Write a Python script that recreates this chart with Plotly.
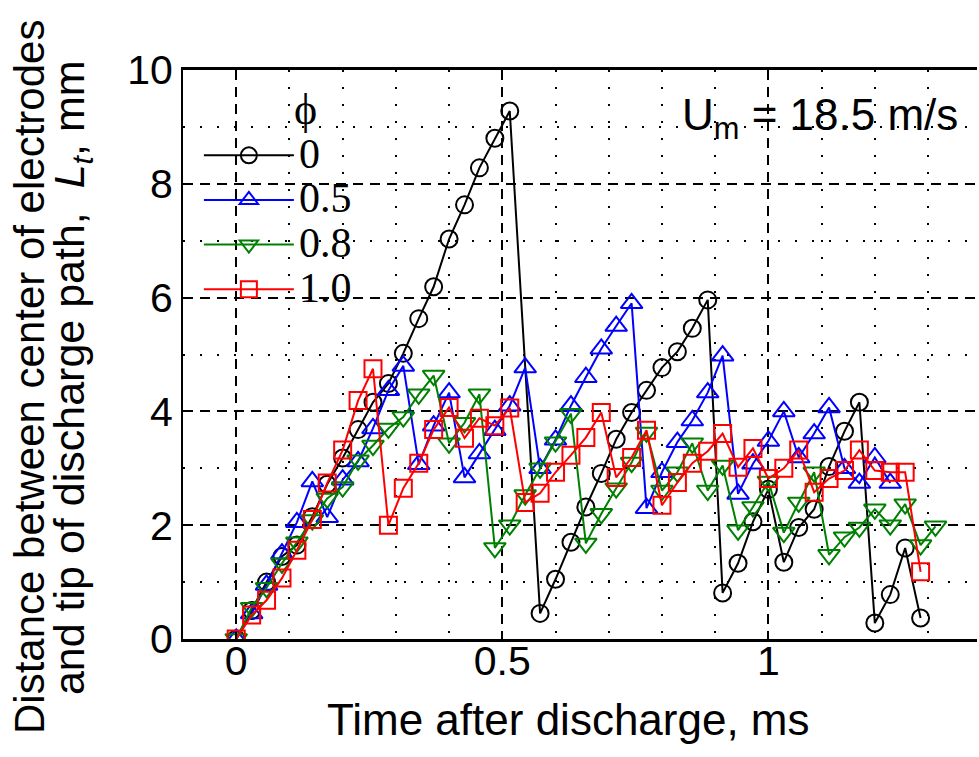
import plotly.graph_objects as go

# time after discharge (ms) and tip distance L_t (mm) for each phi
t_phi0 = [0, 0.029, 0.057, 0.086, 0.114, 0.143, 0.171, 0.2, 0.229, 0.257, 0.286, 0.314,
          0.343, 0.371, 0.4, 0.429, 0.457, 0.486, 0.514, 0.571, 0.6, 0.629, 0.657, 0.686,
          0.714, 0.743, 0.771, 0.8, 0.829, 0.857, 0.886, 0.914, 0.943, 0.971, 1.0, 1.029,
          1.057, 1.086, 1.114, 1.143, 1.171, 1.2, 1.229, 1.257, 1.286]
L_phi0 = [0, 0.5, 1.0, 1.45, 1.65, 2.15, 2.72, 3.18, 3.68, 4.16, 4.49, 5.02,
          5.63, 6.19, 7.03, 7.63, 8.28, 8.8, 9.28, 0.45, 1.05, 1.7, 2.32, 2.91,
          3.51, 3.98, 4.37, 4.77, 5.05, 5.46, 5.96, 0.81, 1.33, 2.06, 2.63, 1.35,
          1.96, 2.28, 3.03, 3.65, 4.16, 0.28, 0.78, 1.6, 0.37]

t_phi05 = [0, 0.029, 0.057, 0.086, 0.114, 0.143, 0.171, 0.2, 0.229, 0.257, 0.286, 0.314,
           0.343, 0.371, 0.4, 0.429, 0.457, 0.486, 0.514, 0.543, 0.571, 0.6, 0.629, 0.657,
           0.686, 0.714, 0.743, 0.771, 0.8, 0.829, 0.857, 0.886, 0.914, 0.943, 0.971, 1.0,
           1.029, 1.057, 1.086, 1.114, 1.143, 1.171, 1.2, 1.229]
L_phi05 = [0, 0.45, 0.95, 1.5, 2.05, 2.77, 2.14, 2.8, 3.12, 3.7, 4.37, 4.8,
           3.07, 3.75, 4.33, 2.84, 3.26, 3.67, 4.1, 4.77, 3.0, 3.5, 4.1, 4.6,
           5.1, 5.5, 5.9, 2.3, 2.93, 3.46, 3.84, 4.33, 4.98, 2.55, 3.08, 3.48,
           4.0, 3.19, 3.61, 4.07, 3.0, 2.74, 3.19, 2.74]

t_phi08 = [0, 0.029, 0.057, 0.086, 0.114, 0.143, 0.171, 0.2, 0.229, 0.257, 0.286, 0.314,
           0.343, 0.371, 0.4, 0.429, 0.457, 0.486, 0.514, 0.543, 0.571, 0.6, 0.629, 0.657,
           0.686, 0.714, 0.743, 0.771, 0.8, 0.829, 0.857, 0.886, 0.914, 0.943, 0.971, 1.0,
           1.029, 1.057, 1.086, 1.114, 1.143, 1.171, 1.2, 1.229, 1.257, 1.286, 1.314]
L_phi08 = [0, 0.55, 0.9, 1.33, 1.7, 2.09, 2.47, 2.67, 3.14, 3.4, 3.7, 3.9,
           4.3, 4.63, 3.44, 3.8, 4.3, 1.6, 2.0, 2.53, 3.0, 3.46, 3.96, 1.68,
           2.2, 2.65, 3.1, 3.63, 2.61, 2.93, 3.44, 2.61, 3.05, 1.91, 2.32, 2.77,
           1.87, 2.4, 2.93, 1.48, 1.79, 1.96, 2.28, 2.0, 2.37, 1.65, 1.98]

t_phi10 = [0, 0.029, 0.057, 0.086, 0.114, 0.143, 0.171, 0.2, 0.229, 0.257, 0.286, 0.314,
           0.343, 0.371, 0.4, 0.429, 0.457, 0.486, 0.514, 0.543, 0.571, 0.6, 0.629, 0.657,
           0.686, 0.714, 0.743, 0.771, 0.8, 0.829, 0.857, 0.886, 0.914, 0.943, 0.971, 1.0,
           1.029, 1.057, 1.086, 1.114, 1.143, 1.171, 1.2, 1.229, 1.257, 1.286]
L_phi10 = [0, 0.42, 0.68, 1.07, 1.56, 2.1, 2.74, 3.32, 4.19, 4.75, 2.0, 2.65,
           3.09, 3.68, 4.07, 3.53, 3.88, 3.75, 4.06, 2.4, 2.56, 2.93, 3.23, 3.54,
           3.98, 2.84, 3.19, 3.67, 2.35, 2.75, 3.09, 3.3, 3.61, 3.02, 3.35, 2.82,
           3.0, 3.32, 2.58, 2.82, 2.96, 3.32, 2.96, 2.93, 2.93, 1.18]

names = ["0", "0.5", "0.8", "1.0"]
colors = ["black", "blue", "green", "red"]
symbols = ["circle-open", "triangle-up-open", "triangle-down-open", "square-open"]
sizes = [17, 19, 19, 17]

x_ticks = [0, 0.5, 1]
x_ticklabels = ["0", "0.5", "1"]
y_ticks = [0, 2, 4, 6, 8, 10]

fig = go.Figure()
series = [(t_phi0, L_phi0), (t_phi05, L_phi05), (t_phi08, L_phi08), (t_phi10, L_phi10)]
for (t, L), name, c, sym, sz in zip(series, names, colors, symbols, sizes):
    fig.add_trace(go.Scatter(
        x=t, y=L, mode="lines+markers",
        name='<span style="font-size:42px">' + name + "</span>",
        line=dict(color=c, width=2),
        marker=dict(symbol=sym, size=sz, color=c, line=dict(color=c, width=2)),
    ))

axis_font = dict(family="Liberation Sans, Arial, sans-serif", size=41, color="black")

fig.update_layout(
    width=979, height=757,
    margin=dict(l=183, r=2, t=70, b=118),
    plot_bgcolor="white", paper_bgcolor="white",
    font=axis_font,
    showlegend=True,
    legend=dict(
        x=0.02, y=0.898, xanchor="left", yanchor="top",
        bgcolor="rgba(0,0,0,0)",
        font=dict(family="Liberation Serif, Times New Roman, serif", size=32, color="black"),
        itemwidth=90, tracegroupgap=0,
    ),
    xaxis=dict(
        range=[-0.1, 1.392], tickvals=x_ticks, ticktext=x_ticklabels,
        ticks="inside", ticklen=7, tickwidth=1.5, tickcolor="black",
        ticklabelstandoff=-16,
        showline=True, linecolor="black", linewidth=2.5, mirror=True,
        showgrid=True, gridcolor="black", gridwidth=1.5, griddash="10px,7px",
        zeroline=False,
        minor=dict(dtick=0.1, tick0=0, showgrid=True, gridcolor="black",
                   gridwidth=2, griddash="2px,15px"),
    ),
    yaxis=dict(
        range=[0, 10], tickvals=y_ticks,
        ticks="inside", ticklen=7, tickwidth=1.5, tickcolor="black",
        showline=True, linecolor="black", linewidth=2,
        showgrid=True, gridcolor="black", gridwidth=1.5, griddash="10px,7px",
        zeroline=False,
        minor=dict(dtick=1, tick0=0, showgrid=True, gridcolor="black",
                   gridwidth=2, griddash="2px,15px"),
    ),
    annotations=[
        dict(text="ϕ", xref="paper", yref="paper",
             x=0.154, y=0.93, xanchor="center", yanchor="middle",
             showarrow=False, font=dict(family="Liberation Serif, serif", size=44)),
        dict(text="Time after discharge, ms", xref="paper", yref="paper",
             x=0.486, y=-0.142, xanchor="center", yanchor="middle",
             showarrow=False, font=dict(size=44)),
        dict(text="Distance between center of electrodes", xref="paper", yref="paper",
             x=-0.193, y=0.46, xanchor="center", yanchor="middle", textangle=-90,
             showarrow=False, font=dict(size=42)),
        dict(text="and tip of discharge path,  <i>L<sub>t</sub></i>, mm", xref="paper", yref="paper",
             x=-0.14, y=0.46, xanchor="center", yanchor="middle", textangle=-90,
             showarrow=False, font=dict(size=43)),
        dict(text="U<sub>m</sub> = 18.5 m/s", xref="paper", yref="paper",
             x=0.979, y=0.916, xanchor="right", yanchor="middle",
             showarrow=False, font=dict(size=44)),
    ],
)

# drop the default 8px page margin so the figure fills the window
fig.write_html("out.html", config={"displayModeBar": False},
               post_script="document.body.style.margin='0';")
